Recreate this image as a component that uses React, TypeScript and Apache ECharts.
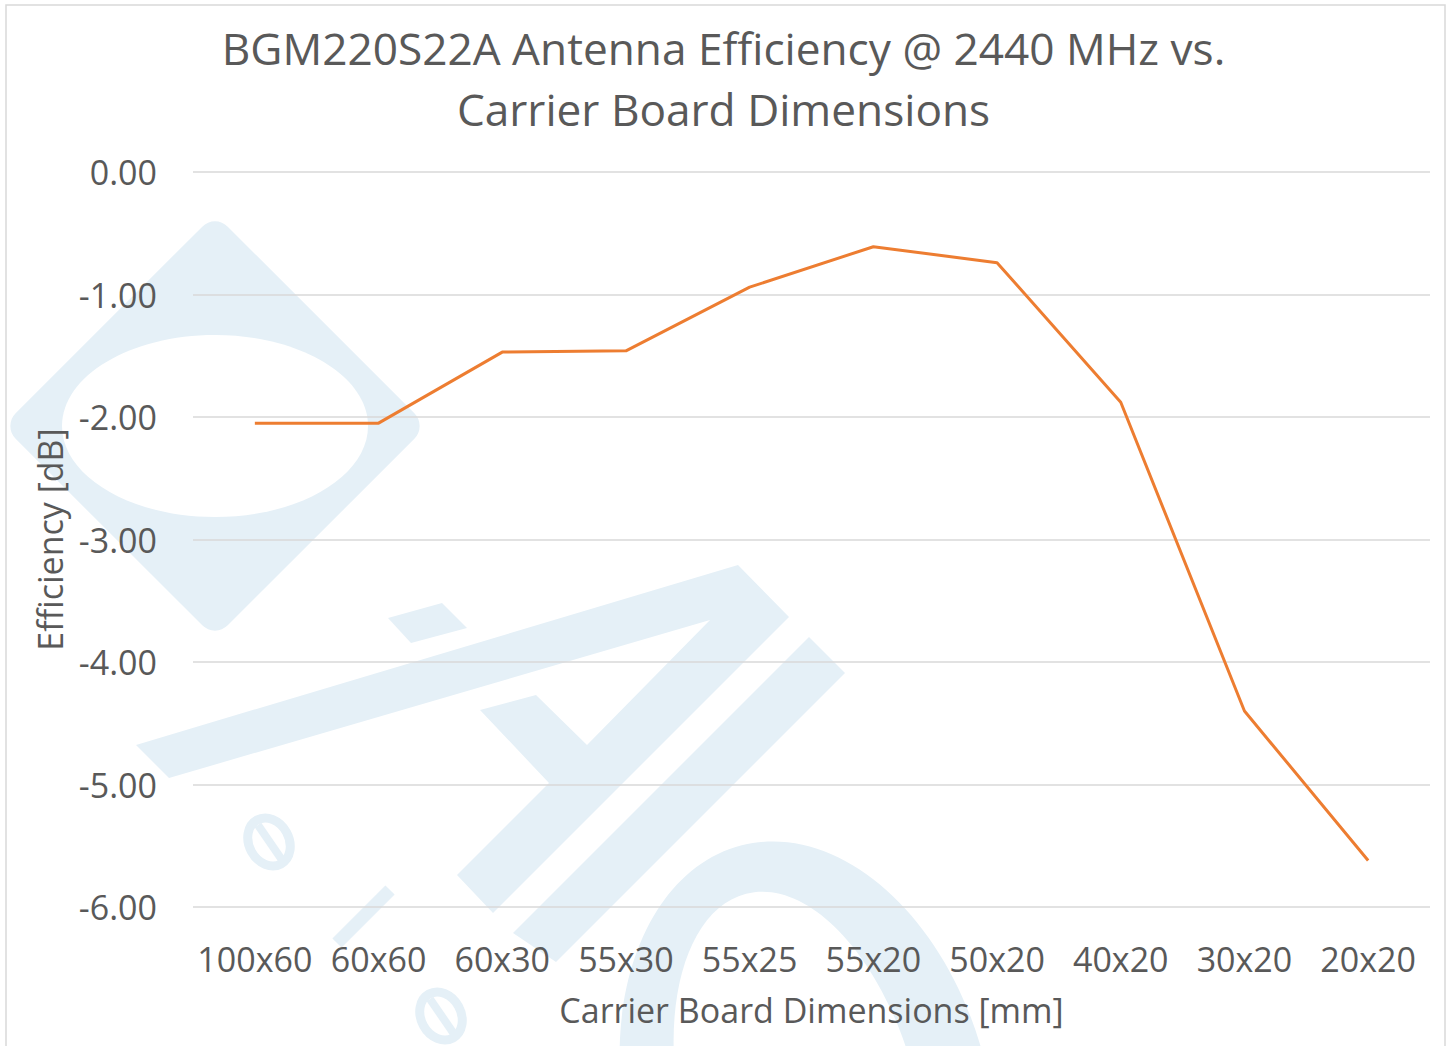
import React, { useEffect, useRef } from "react";
import * as echarts from "echarts";

const categories = ["100x60", "60x60", "60x30", "55x30", "55x25", "55x20", "50x20", "40x20", "30x20", "20x20"];
const efficiency = [-2.05, -2.05, -1.47, -1.46, -0.94, -0.61, -0.74, -1.88, -4.4, -5.62];
const yMin = -6;
const yMax = 0;
const yStep = 1;
const titleLines = ["BGM220S22A Antenna Efficiency @ 2440 MHz vs.", "Carrier Board Dimensions"];
const xName = "Carrier Board Dimensions [mm]";
const yName = "Efficiency [dB]";

const FONT = "'Open Sans', sans-serif";
const TEXT = "#595959";
const WM = "#E5F0F7";

export default function App() {
  const ref = useRef<HTMLDivElement>(null);
  useEffect(() => {
    document.body.style.margin = "0";
    const chart = echarts.init(ref.current!, null, { renderer: "svg" });
    const wm = (o: any) => ({ z: -10, silent: true, ...o });
    chart.setOption({
      animation: false,
      backgroundColor: "#ffffff",
      title: {
        text: titleLines.join("\n"),
        left: "center",
        top: 12,
        textStyle: { fontFamily: FONT, fontSize: 44.2, fontWeight: "normal", color: TEXT, lineHeight: 61 },
      },
      graphic: [
        wm({ type: "rect", x: 215, y: 426, rotation: Math.PI / 4, shape: { x: -150, y: -150, width: 300, height: 300, r: 18 }, style: { fill: WM } }),
        wm({ type: "ellipse", z: -9, shape: { cx: 215, cy: 426, rx: 153, ry: 91 }, style: { fill: "#ffffff" } }),
        wm({
          type: "polygon",
          shape: {
            points: [[136, 745], [738, 565], [789, 617], [493, 913], [457, 875], [549, 783], [480, 710], [536, 695], [587, 745], [710, 620], [169, 778]],
          },
          style: { fill: WM },
        }),
        wm({ type: "polygon", shape: { points: [[388, 618], [442, 603], [467, 628], [411, 643]] }, style: { fill: WM } }),
        wm({ type: "polygon", shape: { points: [[809, 637], [845, 673], [556, 962], [513, 933]] }, style: { fill: WM } }),
        wm({ type: "ellipse", rotation: 0.25, x: 808, y: 1105, shape: { cx: 0, cy: 0, rx: 182, ry: 268 }, style: { fill: WM } }),
        wm({ type: "ellipse", z: -9, rotation: 0.25, x: 800, y: 1105, shape: { cx: 0, cy: 0, rx: 118, ry: 218 }, style: { fill: "#ffffff" } }),
        wm({ type: "ellipse", rotation: 0.5, x: 269, y: 842, shape: { cx: 0, cy: 0, rx: 20, ry: 25 }, style: { fill: "none", stroke: WM, lineWidth: 9 } }),
        wm({ type: "line", shape: { x1: 258, y1: 825, x2: 282, y2: 860 }, style: { stroke: WM, lineWidth: 8 } }),
        wm({ type: "ellipse", rotation: 0.5, x: 441, y: 1016, shape: { cx: 0, cy: 0, rx: 20, ry: 25 }, style: { fill: "none", stroke: WM, lineWidth: 9 } }),
        wm({ type: "line", shape: { x1: 430, y1: 999, x2: 454, y2: 1034 }, style: { stroke: WM, lineWidth: 8 } }),
        wm({ type: "line", shape: { x1: 390, y1: 890, x2: 337, y2: 943 }, style: { stroke: WM, lineWidth: 13 } }),
        {
          type: "rect",
          z: 100,
          silent: true,
          shape: { x: 6, y: 5, width: 1439, height: 1060 },
          style: { fill: "none", stroke: "#D9D9D9", lineWidth: 1.5 },
        },
      ],
      grid: { left: 193, right: 17, top: 172, bottom: 139, containLabel: false },
      xAxis: {
        type: "category",
        data: categories,
        boundaryGap: true,
        axisLine: { show: false },
        axisTick: { show: false },
        axisLabel: { margin: 35, fontFamily: FONT, fontSize: 34, color: TEXT, interval: 0 },
        name: xName,
        nameLocation: "middle",
        nameGap: 86,
        nameTextStyle: { fontFamily: FONT, fontSize: 34, color: TEXT },
      },
      yAxis: {
        type: "value",
        min: yMin,
        max: yMax,
        interval: yStep,
        axisLine: { show: false },
        axisTick: { show: false },
        splitLine: { lineStyle: { color: "#D9D9D9", width: 1.5 } },
        axisLabel: { margin: 36, fontFamily: FONT, fontSize: 34, color: TEXT, formatter: (v: number) => v.toFixed(2) },
        name: yName,
        nameLocation: "middle",
        nameGap: 126,
        nameRotate: 90,
        nameTextStyle: { fontFamily: FONT, fontSize: 34, color: TEXT },
      },
      series: [
        {
          type: "line",
          data: efficiency,
          symbol: "none",
          lineStyle: { color: "#ED7D31", width: 3 },
          itemStyle: { color: "#ED7D31" },
        },
      ],
    });
    return () => chart.dispose();
  }, []);
  return <div ref={ref} style={{ width: 1447, height: 1046 }} />;
}
